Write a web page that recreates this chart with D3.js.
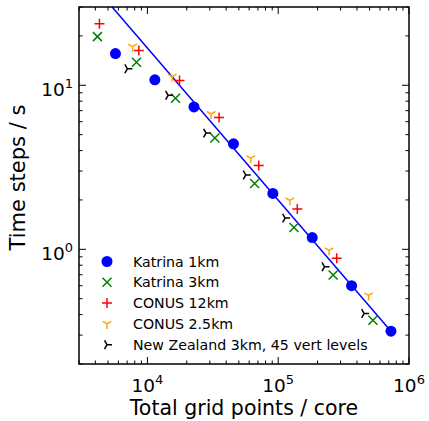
<!DOCTYPE html>
<html>
<head>
<meta charset="utf-8">
<script src="https://cdn.jsdelivr.net/npm/d3@7"></script>
<style>
  body { margin: 0; background: #fff; }
  text { font-family: "DejaVu Sans", sans-serif; fill: #000; }
</style>
</head>
<body>
<svg id="chart_svg" width="429" height="421"></svg>
<script>
// values
var katrina1X = [5700, 11400, 22700, 45500, 91000, 182000, 364000, 728000];
var katrina1Y = [15.6, 10.8, 7.38, 4.40, 2.19, 1.18, 0.60, 0.317];
var katrina3X = [4150, 8250, 16400, 32800, 66000, 132000, 263000, 530000];
var katrina3Y = [19.8, 13.8, 8.33, 4.77, 2.52, 1.36, 0.697, 0.370];
var conus12X = [4300, 8600, 17600, 35300, 71000, 140000, 280000];
var conus12Y = [23.7, 16.3, 10.7, 6.37, 3.24, 1.76, 0.881];
var conus25X = [7700, 15500, 30700, 61700, 122700, 245000, 491000];
var conus25Y = [17.2, 11.3, 6.68, 3.60, 1.99, 0.986, 0.524];
var nzX = [7030, 14400, 28100, 56500, 113000, 226000, 454000];
var nzY = [12.6, 8.69, 5.11, 2.84, 1.55, 0.783, 0.406];
// fitted scaling line (end points)
var fitX = [4200, 728000];
var fitY = [37.7, 0.317];

var legendText = ['Katrina 1km', 'Katrina 3km', 'CONUS 12km', 'CONUS 2.5km', 'New Zealand 3km, 45 vert levels'];
var xMajor = [4, 5, 6];
var yMajor = [0, 1];

var margin = { top: 7, right: 20, bottom: 57, left: 79 },
  width = 429 - margin.left - margin.right,
  height = 421 - margin.top - margin.bottom;

var svg = d3.select('#chart_svg')
  .append('g')
  .attr("transform", "translate(" + margin.left + "," + margin.top + ")");

var x = d3.scaleLog().domain([3000, 1e6]).range([0, width]);
var y = d3.scaleLog().domain([0.2, 30]).range([height, 0]);

svg.append("clipPath").attr("id", "plotclip")
  .append("rect").attr("width", width).attr("height", height);

// minor ticks 2..9 inside each decade
function minors(scale) {
  var d = scale.domain(), out = [];
  for (var e = Math.floor(Math.log10(d[0])); e <= Math.ceil(Math.log10(d[1])); e++) {
    for (var m = 2; m <= 9; m++) {
      var v = m * Math.pow(10, e);
      if (v >= d[0] && v <= d[1]) out.push(v);
    }
  }
  return out;
}

var ticks = svg.append("g").attr("stroke", "#000").attr("stroke-width", 1);
var xMin = minors(x), yMin = minors(y);
var xMaj = xMajor.map(e => Math.pow(10, e)), yMaj = yMajor.map(e => Math.pow(10, e));

function xTicks(vals, len) {
  ticks.selectAll(null).data(vals).enter().append("line")
    .attr("x1", d => x(d)).attr("x2", d => x(d)).attr("y1", height).attr("y2", height - len);
  ticks.selectAll(null).data(vals).enter().append("line")
    .attr("x1", d => x(d)).attr("x2", d => x(d)).attr("y1", 0).attr("y2", len);
}
function yTicks(vals, len) {
  ticks.selectAll(null).data(vals).enter().append("line")
    .attr("y1", d => y(d)).attr("y2", d => y(d)).attr("x1", 0).attr("x2", len);
  ticks.selectAll(null).data(vals).enter().append("line")
    .attr("y1", d => y(d)).attr("y2", d => y(d)).attr("x1", width).attr("x2", width - len);
}
xTicks(xMin, 3.5); xTicks(xMaj, 7);
yTicks(yMin, 3.5); yTicks(yMaj, 7);

// tick labels 10^n
var xl = svg.selectAll(".xlab").data(xMajor).enter().append("text")
  .attr("class", "xlab")
  .attr("x", d => x(Math.pow(10, d)))
  .attr("y", height + 28)
  .attr("text-anchor", "middle")
  .style("font-size", "18.5px");
xl.append("tspan").text("10");
xl.append("tspan").attr("dy", -8).style("font-size", "13px").text(d => d);

var yl = svg.selectAll(".ylab").data(yMajor).enter().append("text")
  .attr("class", "ylab")
  .attr("x", -6)
  .attr("y", d => y(Math.pow(10, d)) + 10.5)
  .attr("text-anchor", "end")
  .style("font-size", "18.5px");
yl.append("tspan").text("10");
yl.append("tspan").attr("dy", -8).style("font-size", "13px").text(d => d);

// axis titles
svg.append("text")
  .attr("x", width / 2)
  .attr("y", height + 51)
  .attr("text-anchor", "middle")
  .style("font-size", "20.5px")
  .text("Total grid points / core");

svg.append("text")
  .attr("transform", "translate(" + (-54) + "," + (height / 2 - 8) + ") rotate(-90)")
  .attr("text-anchor", "middle")
  .style("font-size", "21px")
  .text("Time steps / s");

var plot = svg.append("g").attr("clip-path", "url(#plotclip)");

// fit line
plot.append("path")
  .datum(d3.zip(fitX, fitY))
  .attr("fill", "none")
  .attr("stroke", "#0000ff")
  .attr("stroke-width", 1.5)
  .attr("d", d3.line().x(d => x(d[0])).y(d => y(d[1])));

// marker shapes
function markerPath(kind) {
  if (kind == "x") return "M-4.5,-4.5L4.5,4.5M-4.5,4.5L4.5,-4.5";
  if (kind == "plus") return "M-5,0L5,0M0,-5L0,5";
  if (kind == "tri_down") return "M0,0L0,5M0,0L-4.33,-2.5M0,0L4.33,-2.5";
  if (kind == "tri_right") return "M0,0L5,0M0,0L-2.5,-4.33M0,0L-2.5,4.33";
  return "";
}

var series = [
  { xs: katrina1X, ys: katrina1Y, kind: "circle", color: "#0000ff" },
  { xs: katrina3X, ys: katrina3Y, kind: "x", color: "#008000" },
  { xs: conus12X, ys: conus12Y, kind: "plus", color: "#ff0000" },
  { xs: conus25X, ys: conus25Y, kind: "tri_down", color: "#ffa500" },
  { xs: nzX, ys: nzY, kind: "tri_right", color: "#000000" }
];

function drawMarker(g, kind, color) {
  if (kind == "circle") {
    g.append("circle").attr("r", 5.5).attr("fill", color);
  } else {
    g.append("path").attr("d", markerPath(kind))
      .attr("fill", "none").attr("stroke", color).attr("stroke-width", 1.5);
  }
}

series.forEach(function (s) {
  var pts = d3.zip(s.xs, s.ys);
  plot.selectAll(null).data(pts).enter().append("g")
    .attr("transform", d => "translate(" + x(d[0]) + "," + y(d[1]) + ")")
    .each(function () { drawMarker(d3.select(this), s.kind, s.color); });
});

// legend (no frame)
var legend = svg.append("g");
series.forEach(function (s, i) {
  var ly = 254.5 + i * 20.8;
  var mg = legend.append("g").attr("transform", "translate(28," + ly + ")");
  drawMarker(mg, s.kind, s.color);
  legend.append("text")
    .attr("x", 54)
    .attr("y", ly + 5)
    .style("font-size", "14.2px")
    .text(legendText[i]);
});

// frame
svg.append("rect")
  .attr("width", width).attr("height", height)
  .attr("fill", "none").attr("stroke", "#000").attr("stroke-width", 1.5);
</script>
</body>
</html>
